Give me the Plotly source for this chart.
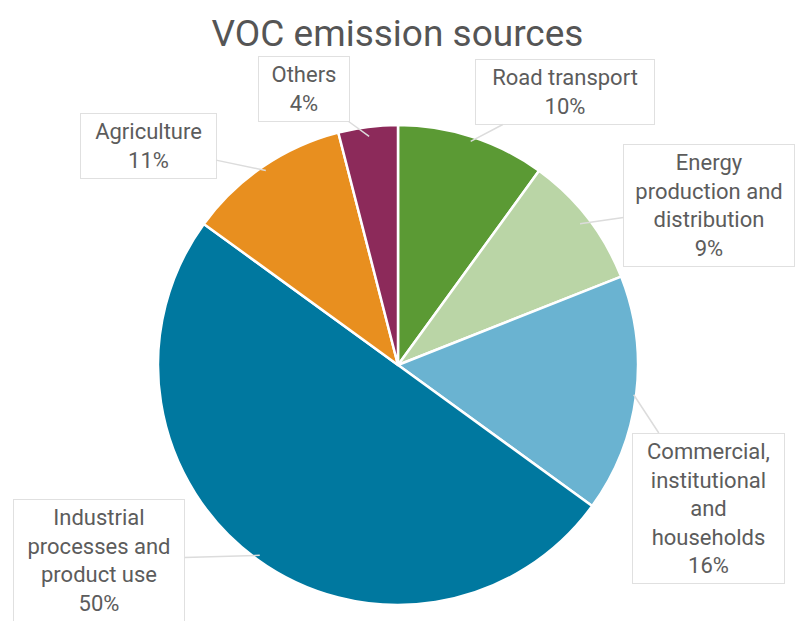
import math
import plotly.graph_objects as go

categories = ["Road transport", "Energy production and distribution",
              "Commercial, institutional and households",
              "Industrial processes and product use", "Agriculture", "Others"]
values = [10, 9, 16, 50, 11, 4]
label_text = ["Road transport<br>10%", "Energy<br>production and<br>distribution<br>9%",
              "Commercial,<br>institutional<br>and<br>households<br>16%",
              "Industrial<br>processes and<br>product use<br>50%",
              "Agriculture<br>11%", "Others<br>4%"]
colors = ["#5b9a34", "#bad5a6", "#6ab3d1", "#00789f", "#e88f1f", "#8c2a5a"]

W, H = 795, 621
cx, cy, r = 398, 365, 240

fig = go.Figure(go.Pie(
    labels=categories, values=values, sort=False, direction="clockwise",
    rotation=0, marker=dict(colors=colors, line=dict(color="white", width=2.5)),
    textinfo="none", hoverinfo="label+percent", showlegend=False,
    domain=dict(x=[(cx - r) / W, (cx + r) / W], y=[1 - (cy + r) / H, 1 - (cy - r) / H]),
))

# label box centres (pixels) and widths
box_centers = [(565, 92), (709, 205), (708, 508), (99, 560), (148, 146), (304, 89)]
box_widths = [168, 160, 141, 160, 125, 80]
tip_frac = [0.98, 0.96, 0.99, 0.98, 0.98, 0.96]

total = sum(values)
cum = 0
for i, v in enumerate(values):
    mid = (cum + v / 2) / total * 2 * math.pi
    cum += v
    tx = cx + r * tip_frac[i] * math.sin(mid)
    ty = cy - r * tip_frac[i] * math.cos(mid)
    bx, by = box_centers[i]
    fig.add_annotation(
        x=tx / W, y=1 - ty / H, xref="paper", yref="paper",
        ax=bx - tx, ay=by - ty, axref="pixel", ayref="pixel",
        text=label_text[i], showarrow=True, arrowhead=0, arrowwidth=1.5,
        arrowcolor="#dcdcdc", bgcolor="white", bordercolor="#e0e0e0",
        borderwidth=1, borderpad=5, width=box_widths[i], align="center",
        font=dict(family="Roboto", size=22, color="#5c5c5c"),
    )

fig.update_layout(
    width=W, height=H, margin=dict(l=0, r=0, t=0, b=0),
    paper_bgcolor="white", plot_bgcolor="white",
    title=dict(text="VOC emission sources", x=0.5, xanchor="center",
               y=1 - 33 / H, yanchor="middle",
               font=dict(family="Roboto", size=37, color="#555555")),
)

fig.write_html("out.html")
